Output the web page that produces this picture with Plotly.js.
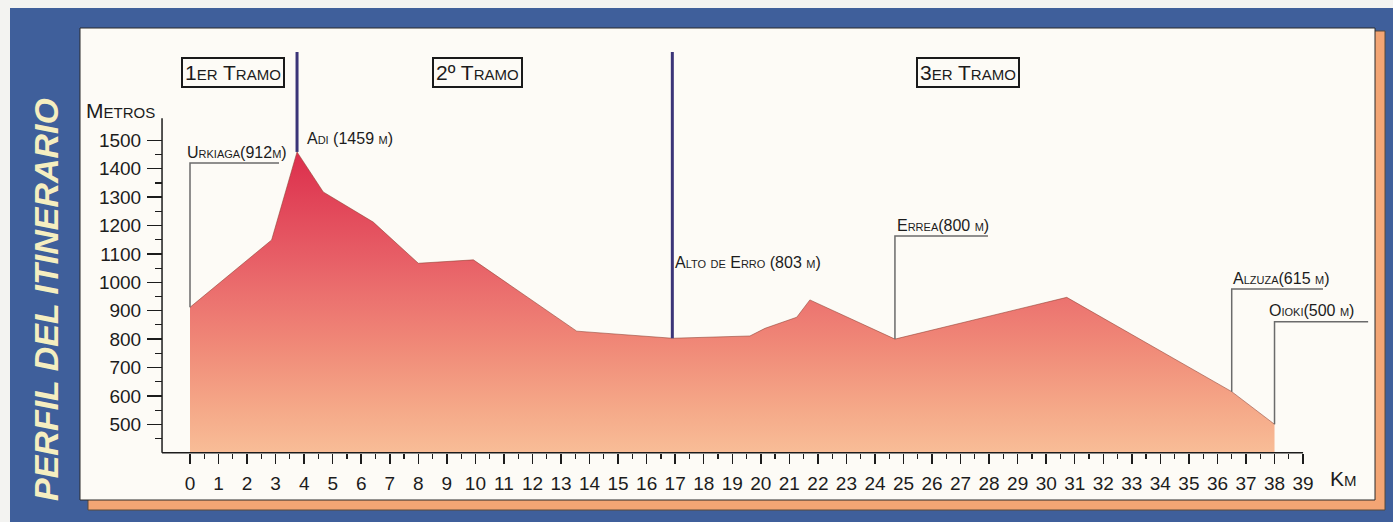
<!DOCTYPE html>
<html>
<head>
<meta charset="utf-8">
<script src="https://cdn.plot.ly/plotly-3.0.1.min.js"></script>
<style>
html,body{margin:0;padding:0;background:#f3f3f1;}
#chart{width:1393px;height:522px;}
</style>
</head>
<body>
<div id="chart"></div>
<script>
// ---------------- DATA ----------------
const profileKm   = [0, 2.86, 3.75, 4.67, 6.42, 8.0, 9.93, 13.55, 16.9, 19.62, 20.15, 21.26, 21.72, 24.7, 30.72, 36.5, 38.0];
const profileElev = [912, 1149, 1459, 1318, 1212, 1067, 1079, 828, 803, 811, 838, 877, 938, 800, 947, 615, 500];

const placeNames = ['Urkiaga(912m)', 'Adi (1459 m)', 'Alto de Erro (803 m)', 'Errea(800 m)', 'Alzuza(615 m)', 'Oioki(500 m)'];
const placeKm    = [0, 3.75, 16.9, 24.7, 36.5, 38.0];
const placeElev  = [912, 1459, 803, 800, 615, 500];

const sectionNames   = ['1er Tramo', '2º Tramo', '3er Tramo'];
const sectionBreakKm = [3.75, 16.9];
const sectionBreakElev = [1459, 803];

const kmTicks = [0,1,2,3,4,5,6,7,8,9,10,11,12,13,14,15,16,17,18,19,20,21,22,23,24,25,26,27,28,29,30,31,32,33,34,35,36,37,38,39];
const kmMinorTicks = [0.5,1.5,2.5,3.5,4.5,5.5,6.5,7.5,8.5,9.5,10.5,11.5,12.5,13.5,14.5,15.5,16.5,17.5,18.5,19.5,20.5,21.5,22.5,23.5,24.5,25.5,26.5,27.5,28.5,29.5,30.5,31.5,32.5,33.5,34.5,35.5,36.5,37.5,38.5];
const mTicks = [500,600,700,800,900,1000,1100,1200,1300,1400,1500];
const mMinorTicks = [450,550,650,750,850,950,1050,1150,1250,1350,1450];

const axisMinElev = 400;
const axisMaxElev = 1578;
const axisMinKm = -0.98;
const axisMaxKm = 39;

// ---------------- LAYOUT HELPERS ----------------
const W = 1393, H = 522;
const M = {l:155, r:15, t:40, b:64};
const PW = W - M.l - M.r, PH = H - M.t - M.b;
const px = v => (v - M.l) / PW;        // pixel x -> paper x
const py = v => (H - M.b - v) / PH;    // pixel y -> paper y

const FONT = 'Liberation Sans Narrow, Liberation Sans, Arial, sans-serif';
const INK = '#1c1c1c';
const PANEL = '#fdfbf6';

// Leader lines: index into places, top elevation of leader, end km of horizontal
const leaders = [
  {i:0, top:1420, end:3.12},
  {i:3, top:1163, end:27.96},
  {i:4, top:976,  end:39.7},
  {i:5, top:861,  end:41.28}
];
// Label anchor positions (left, middle) in data coordinates
const labelPos = [
  {x:-0.13, y:1456},
  {x:4.06,  y:1508},
  {x:16.96, y:1071},
  {x:24.74, y:1199},
  {x:36.51, y:1013},
  {x:37.78, y:900}
];
const sectionPos = [
  {x:1.52,  y:1737},
  {x:10.09, y:1739},
  {x:27.26, y:1737}
];

const shapes = [];
// background frame
shapes.push({type:'rect', xref:'paper', yref:'paper', layer:'below',
  x0:px(10), x1:px(1393), y0:py(8), y1:py(522), fillcolor:'#3f5f9b', line:{width:0}});
shapes.push({type:'rect', xref:'paper', yref:'paper', layer:'below',
  x0:px(88), x1:px(1385), y0:py(31), y1:py(510), fillcolor:'#f3a574', line:{color:'#5a4a3a', width:1}});
shapes.push({type:'rect', xref:'paper', yref:'paper', layer:'below',
  x0:px(80), x1:px(1375), y0:py(28), y1:py(500), fillcolor:PANEL, line:{color:'#2a2a2a', width:1}});

// axis lines
shapes.push({type:'line', xref:'x', yref:'y', x0:axisMinKm, x1:axisMaxKm, y0:axisMinElev, y1:axisMinElev,
  line:{color:INK, width:1.5}});
shapes.push({type:'line', xref:'x', yref:'y', x0:axisMinKm, x1:axisMinKm, y0:axisMinElev, y1:axisMaxElev,
  line:{color:INK, width:1.5}});

// section break lines
sectionBreakKm.forEach((k, j) => {
  shapes.push({type:'line', xref:'x', yref:'y', x0:k, x1:k, y0:sectionBreakElev[j], y1:1811,
    line:{color:'#3b3578', width:3}});
});

// leader lines
leaders.forEach(L => {
  const k = placeKm[L.i], e = placeElev[L.i];
  shapes.push({type:'path', xref:'x', yref:'y',
    path:`M ${k},${e} L ${k},${L.top} L ${L.end},${L.top}`,
    line:{color:'#6b6b6b', width:1.5}});
});

const annotations = [];
placeNames.forEach((n, i) => {
  annotations.push({xref:'x', yref:'y', x:labelPos[i].x, y:labelPos[i].y, text:n, showarrow:false,
    xanchor:'left', yanchor:'middle', borderpad:0,
    font:{family:FONT, size:16, color:INK, variant:'small-caps'}});
});
sectionNames.forEach((n, i) => {
  annotations.push({xref:'x', yref:'y', x:sectionPos[i].x, y:sectionPos[i].y, text:n, showarrow:false,
    xanchor:'center', yanchor:'middle', bordercolor:'#1a1a1a', borderwidth:2, borderpad:2, bgcolor:PANEL,
    font:{family:FONT, size:21, color:INK, variant:'small-caps'}});
});
annotations.push({xref:'paper', yref:'paper', x:px(120), y:py(110), text:'Metros', showarrow:false,
  xanchor:'center', yanchor:'middle', font:{family:FONT, size:21, color:INK, variant:'small-caps'}});
annotations.push({xref:'paper', yref:'paper', x:px(1343), y:py(478), text:'Km', showarrow:false,
  xanchor:'center', yanchor:'middle', font:{family:FONT, size:21, color:INK, variant:'small-caps'}});
annotations.push({xref:'paper', yref:'paper', x:px(46), y:py(300), text:'PERFIL DEL ITINERARIO', showarrow:false,
  xanchor:'center', yanchor:'middle', textangle:-90,
  font:{family:'Liberation Sans, Arial, sans-serif', size:34, color:'#f5eec0', weight:'bold', style:'italic'}});

const traces = [
  {type:'scatter', x:[profileKm[0], profileKm[profileKm.length-1]], y:[axisMinElev, axisMinElev],
   mode:'lines', line:{width:0, color:'rgba(0,0,0,0)'}, hoverinfo:'skip', showlegend:false},
  {type:'scatter', x:profileKm, y:profileElev, mode:'lines', fill:'tonexty',
   line:{color:'rgba(140,60,45,0.55)', width:1},
   fillgradient:{type:'vertical', start:400, stop:1460,
     colorscale:[[0,'#f8bd97'],[0.15,'#f5a888'],[0.35,'#f08a78'],[0.5,'#ec7470'],[0.65,'#e75e66'],[1,'#dc2e4c']]},
   hoverinfo:'skip', showlegend:false}
];

const pxPerKm = 28.54, km0px = 190;
const pxPerM = 0.284, m500px = 424.3;
const xRange = [(M.l - km0px)/pxPerKm, (W - M.r - km0px)/pxPerKm];
const yRange = [500 - (H - M.b - m500px)/pxPerM, 500 + (m500px - M.t)/pxPerM];

const layout = {
  width:W, height:H, margin:M,
  paper_bgcolor:'#f3f3f1', plot_bgcolor:'rgba(0,0,0,0)',
  showlegend:false,
  xaxis:{range:xRange, anchor:'free', position:py(452.7), showline:false, zeroline:false, showgrid:false,
    tickmode:'array', tickvals:kmTicks, ticktext:kmTicks.map(String), ticks:'outside', ticklen:10, tickwidth:1.5, tickcolor:INK,
    tickfont:{family:FONT, size:19, color:INK}, ticklabelstandoff:3,
    minor:{tickmode:'array', tickvals:kmMinorTicks, ticks:'outside', ticklen:5, tickwidth:1.2, tickcolor:INK, showgrid:false},
    fixedrange:true},
  yaxis:{range:yRange, anchor:'free', position:px(162), showline:false, zeroline:false, showgrid:false,
    tickmode:'array', tickvals:mTicks, ticktext:mTicks.map(String), ticks:'outside', ticklen:15, tickwidth:1.5, tickcolor:INK,
    tickfont:{family:FONT, size:19, color:INK}, ticklabelstandoff:2,
    minor:{tickmode:'array', tickvals:mMinorTicks, ticks:'outside', ticklen:7, tickwidth:1.2, tickcolor:INK, showgrid:false},
    fixedrange:true},
  shapes:shapes,
  annotations:annotations
};

Plotly.newPlot('chart', traces, layout, {displayModeBar:false, staticPlot:true});
</script>
</body>
</html>
